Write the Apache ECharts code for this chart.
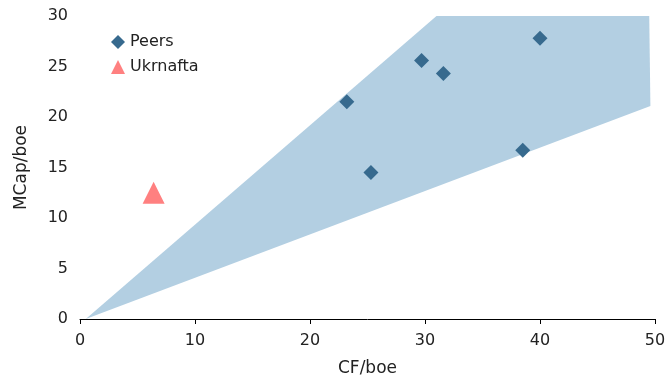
<!DOCTYPE html>
<html>
<head>
<meta charset="utf-8">
<script src="https://cdn.jsdelivr.net/npm/echarts@6/dist/echarts.min.js"></script>
<style>
  html, body { margin: 0; padding: 0; background: #fff; }
  #chart { width: 665px; height: 376px; }
</style>
</head>
<body>
<div id="chart"></div>
<script>
// Peer group valuation: market cap per boe vs cash flow per boe
const peersCF   = [23.2, 25.3, 29.7, 31.6, 38.5, 40.0];
const peersMCap = [21.5, 14.5, 25.6, 24.3, 16.7, 27.8];

const ukrnaftaCF   = [6.4];
const ukrnaftaMCap = [12.5];

// Shaded valuation range (polygon vertices, CF/boe and MCap/boe)
const bandCF   = [0.5, 31.0, 49.5, 49.6];
const bandMCap = [0.0, 30.0, 30.0, 21.1];

const xTicks = { min: 0, max: 50, interval: 10 };
const yTicks = { min: 0, max: 30, interval: 5 };

const FONT = 'DejaVu Sans';
const TXT = '#222222';

const chart = echarts.init(document.getElementById('chart'), null, { renderer: 'canvas' });

chart.setOption({
  animation: false,
  grid: { left: 80, right: 10, top: 16, bottom: 57, containLabel: false, outerBoundsMode: 'none' },
  legend: {
    orient: 'vertical',
    left: 106,
    top: 29,
    itemGap: 9,
    itemWidth: 14,
    itemHeight: 14,
    textStyle: { fontFamily: FONT, fontSize: 16, color: TXT },
    data: [
      { name: 'Peers', icon: 'diamond', itemStyle: { color: '#376a8e', opacity: 1 } },
      { name: 'Ukrnafta', icon: 'triangle', itemStyle: { color: '#ff8080', opacity: 1 } }
    ]
  },
  xAxis: {
    type: 'value',
    min: xTicks.min, max: xTicks.max, interval: xTicks.interval,
    name: 'CF/boe',
    nameLocation: 'middle',
    nameGap: 41,
    nameTextStyle: { fontFamily: FONT, fontSize: 17, color: TXT },
    axisLine: { show: true, lineStyle: { color: '#000', width: 1 } },
    axisTick: { show: true, length: 5, lineStyle: { color: '#000' } },
    axisLabel: { fontFamily: FONT, fontSize: 16, color: TXT, margin: 14 },
    splitLine: { show: false }
  },
  yAxis: {
    type: 'value',
    min: yTicks.min, max: yTicks.max, interval: yTicks.interval,
    name: 'MCap/boe',
    nameLocation: 'middle',
    nameGap: 50,
    nameTextStyle: { fontFamily: FONT, fontSize: 17, color: TXT },
    axisLine: { show: false },
    axisTick: { show: false },
    axisLabel: { fontFamily: FONT, fontSize: 16, color: TXT, margin: 12 },
    splitLine: { show: false }
  },
  series: [
    {
      name: 'band',
      type: 'custom',
      silent: true,
      z: 1,
      data: [0],
      renderItem: function (params, api) {
        const pts = bandCF.map(function (x, i) { return api.coord([x, bandMCap[i]]); });
        return {
          type: 'polygon',
          shape: { points: pts },
          style: { fill: '#b3cfe2' }
        };
      }
    },
    {
      name: 'Peers',
      type: 'scatter',
      symbol: 'diamond',
      symbolSize: 15,
      z: 3,
      itemStyle: { color: '#376a8e', opacity: 1 },
      data: peersCF.map(function (x, i) { return [x, peersMCap[i]]; })
    },
    {
      name: 'Ukrnafta',
      type: 'scatter',
      symbol: 'triangle',
      symbolSize: 22,
      z: 3,
      itemStyle: { color: '#ff8080', opacity: 1 },
      data: ukrnaftaCF.map(function (x, i) { return [x, ukrnaftaMCap[i]]; })
    }
  ]
});
</script>
</body>
</html>
